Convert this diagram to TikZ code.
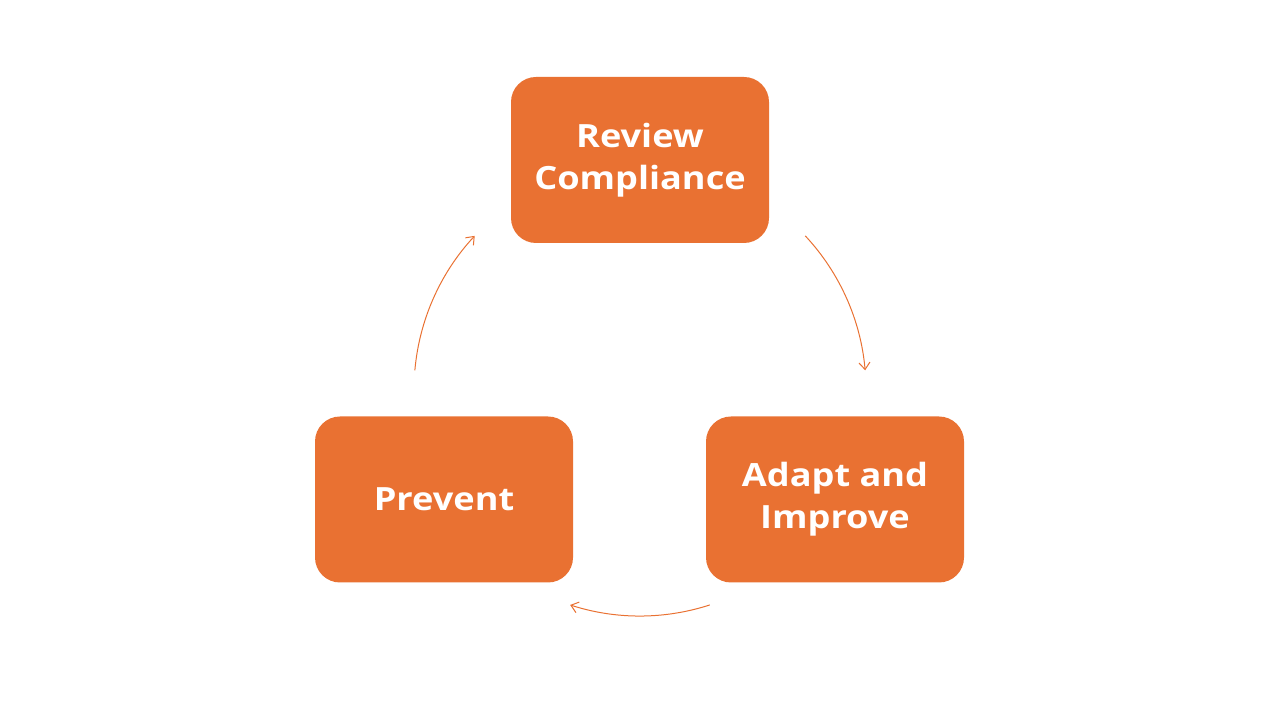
\documentclass[tikz,border=0pt]{standalone}
\usepackage{fontspec}
\setmainfont{Open Sans}[FakeStretch=1.13]
\usetikzlibrary{arrows.meta,calc}
\definecolor{orng}{HTML}{E97132}
\begin{document}
\begin{tikzpicture}[x=1pt,y=1pt,
  stepbox/.style={fill=orng, rounded corners=25pt, minimum width=258pt, minimum height=166pt,
    text=white, font=\fontsize{32}{43}\selectfont\bfseries, align=center, inner sep=0pt},
  cyc/.style={draw=orng, line width=1pt, -{Straight Barb[length=7pt,width=11pt]}}]
\useasboundingbox (0,0) rectangle (1280,720);
\node[stepbox] (rev) at (640,560) {Review\\[-1pt]Compliance};
\node[stepbox] (adp) at (835,220.5) {Adapt and\\[-1pt]Improve};
\node[stepbox] (prv) at (444,220.5) {Prevent};
\coordinate (c) at (640,330);
\coordinate (a1) at ($(c)+(43:226)$);
\coordinate (a2) at ($(c)+(-72:226)$);
\coordinate (a3) at ($(c)+(175:226)$);
\draw[cyc] (a1) arc[start angle=43, end angle=5, radius=226];
\draw[cyc] (a2) arc[start angle=-72, end angle=-108, radius=226];
\draw[cyc] (a3) arc[start angle=175, end angle=137, radius=226];
\end{tikzpicture}
\end{document}
